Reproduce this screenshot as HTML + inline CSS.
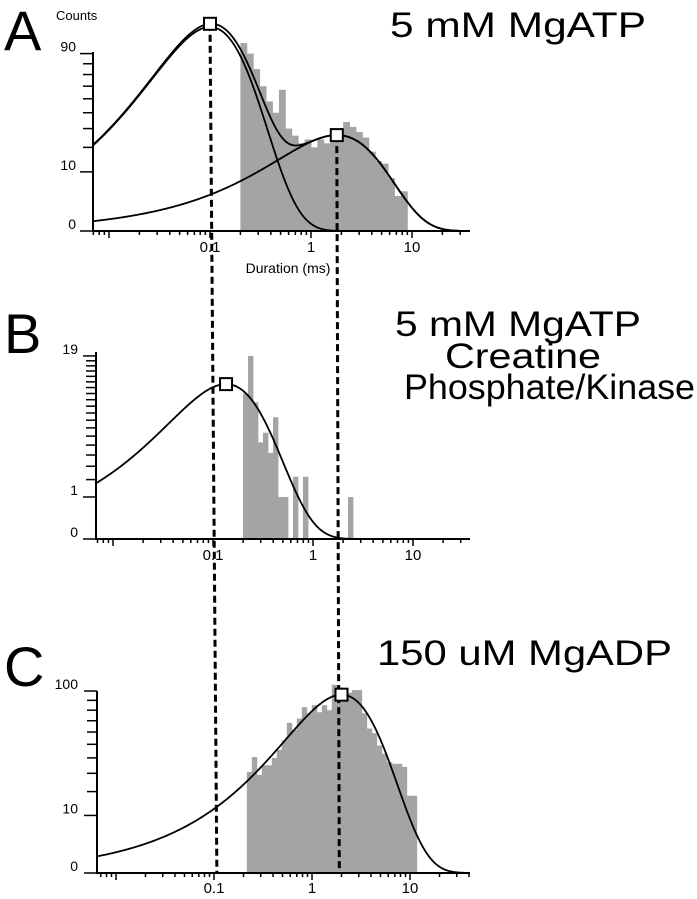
<!DOCTYPE html>
<html><head><meta charset="utf-8"><style>
html,body{margin:0;padding:0;background:#fff;}
svg{display:block;font-family:"Liberation Sans",Arial,sans-serif;}
</style></head><body>
<svg id="fig" width="697" height="899" viewBox="0 0 697 899" xmlns="http://www.w3.org/2000/svg">
<g id="layer"></g>
</svg>
<script>
// ---- data ----
const aCounts = [101,90,75,60,48,40,57,30,26,22,24,20,24,22,24,26,34,31,28,25,18,14,13,8,3.5,4.5];
const bCounts = [12,19,10.6,5.3,6.4,4.2,8.4,1,1,0,2.2,0,2.2,0,0,0,0,0,0,0,0,1];
const cCounts = [30.8,40.6,29,35,35,40,45.7,53,68,62,72,83,77,85,78,85,80,107,104,99,98,101,101,77,63,59,49,43,37,36,36,34,18,18];
const aFitTau = [0.1, 1.8];
const aFitN = [119, 26.3];
const bFitTau = [0.135];
const bFitN = [13.6];
const cFitTau = [2.0];
const cFitN = [96];
const xTickLabels = ["0.1","1","10"];
const xTickValues = [0.1,1,10];
const aYTicks = [0,10,90];
const bYTicks = [0,1,19];
const cYTicks = [0,10,100];
const guideBottomValues = [0.107, 1.9];

const NS="http://www.w3.org/2000/svg";
const layer=document.getElementById('layer');
function mk(tag,attrs,parent){const e=document.createElementNS(NS,tag);for(const k in attrs)e.setAttribute(k,attrs[k]);(parent||layer).appendChild(e);return e;}

const panels=[
 {key:'a',counts:aCounts,binStart:Math.log10(0.2),binW:1.6532/26,taus:aFitTau,Ns:aFitN,x1:311,dec:101,x0:93,xEnd:470,y0:231,k:18.7,yTicks:aYTicks,minor:[20,30,40,50,60,70,80],yTop:52,lblY:252,labX:80},
 {key:'b',counts:bCounts,binStart:-0.7,binW:0.05,taus:bFitTau,Ns:bFitN,x1:313,dec:100,x0:96,xEnd:470,y0:539,k:42,yTicks:bYTicks,minor:[2,3,4,5,6,7,8,9,10,11,12,13,14,15,16,17,18],yTop:352,lblY:560,labX:82},
 {key:'c',counts:cCounts,binStart:-0.665,binW:0.051,taus:cFitTau,Ns:cFitN,x1:312,dec:98,x0:97,xEnd:470,y0:873,k:18.2,yTicks:cYTicks,minor:[20,30,40,50,60,70,80,90],yTop:691,lblY:893,labX:82}
];

panels.forEach(p=>{
 const xs=v=>p.x1+p.dec*Math.log10(v);
 const xl=l=>p.x1+p.dec*l;
 const ys=c=>p.y0-p.k*Math.sqrt(Math.max(c,0));
 const g=mk('g',{});
 
 
 p.counts.forEach((c,i)=>{
  if(c<=0)return;
  const a=xl(p.binStart+i*p.binW), b=xl(p.binStart+(i+1)*p.binW);
  const r=mk('rect',{x:a,y:ys(c),width:b-a+0.4,height:p.y0-ys(c),fill:'#a4a4a4'},g);
  
  
 });
 const f=(t,tau,N)=>N*(t/tau)*Math.exp(1-t/tau);
 const lo=(p.x0-p.x1)/p.dec, hi=(p.xEnd-p.x1)/p.dec;
 const curvePts=(fn)=>{let d='';for(let i=0;i<=300;i++){const l=lo+(hi-lo)*i/300;const t=Math.pow(10,l);d+=(i?'L':'M')+xl(l).toFixed(2)+','+ys(fn(t)).toFixed(2);}return d;};
 if(p.taus.length>1){
  p.taus.forEach((tau,j)=>{
   const c=mk('path',{d:curvePts(t=>f(t,tau,p.Ns[j])),fill:'none',stroke:'#000','stroke-width':1.8},g);
   
   
  });
 }
 const total=t=>p.taus.reduce((s,tau,j)=>s+f(t,tau,p.Ns[j]),0);
 const tc=mk('path',{d:curvePts(total),fill:'none',stroke:'#000','stroke-width':1.8},g);
 
 
 p.boxes=p.taus.map(tau=>[xs(tau),ys(total(tau))]);
 p.xs=xs;p.ys=ys;p.g=g;
 const ax=mk('path',{d:`M${p.x0},${p.yTop}V${p.y0}H${p.xEnd}`,fill:'none',stroke:'#000','stroke-width':2},g);
 
 
 for(let e=-3;e<=2;e++){for(let m=1;m<=9;m++){const v=m*Math.pow(10,e);const x=xs(v);if(x<p.x0-0.5||x>p.xEnd)continue;
  const len=(m===1)?7:4;
  const t=mk('line',{x1:x,y1:p.y0,x2:x,y2:p.y0+len,stroke:'#000','stroke-width':1.5},g);
  
  }}
 xTickValues.forEach((v,i)=>{
  const t=mk('text',{x:xs(v),y:p.lblY,'font-size':15,'text-anchor':'middle'},g);t.textContent=xTickLabels[i];
  
  
 });
 p.minor.forEach(c=>{const y=ys(c);const t=mk('line',{x1:p.x0-10,y1:y,x2:p.x0,y2:y,stroke:'#000','stroke-width':1.5},g);
  
  });
 p.yTicks.forEach(c=>{const y=ys(c);const t=mk('line',{x1:p.x0-13,y1:y,x2:p.x0,y2:y,stroke:'#000','stroke-width':1.5},g);
  
  
  const l=mk('text',{x:p.labX-4,y:y-2,'font-size':14,'text-anchor':'end'},g);l.textContent=c;
  
  });
});

const A=panels[0],C=panels[2];
const d1=mk('line',{x1:A.boxes[0][0],y1:A.boxes[0][1],x2:C.xs(guideBottomValues[0]),y2:873,stroke:'#000','stroke-width':3,'stroke-dasharray':'7,4'});


const d2=mk('line',{x1:A.boxes[1][0],y1:A.boxes[1][1],x2:C.xs(guideBottomValues[1]),y2:873,stroke:'#000','stroke-width':3,'stroke-dasharray':'7,4'});



panels.forEach(p=>p.boxes.forEach(b=>{
 const r=mk('rect',{x:b[0]-6,y:b[1]-6,width:12,height:12,fill:'#fff',stroke:'#000','stroke-width':2});
 
 
}));

function txt(s,x,y,size,name,anchor,len){const t=mk('text',{x:x,y:y,'font-size':size,'text-anchor':anchor||'start'});if(len){t.setAttribute('textLength',len);t.setAttribute('lengthAdjust','spacingAndGlyphs');}t.textContent=s;
 
 return t;}
txt('A',4,50,56,'panel-label-a');
txt('B',4,353,56,'panel-label-b');
txt('C',4,686,56,'panel-label-c');
txt('Counts',56,20,13,'y-axis-title');
txt('Duration (ms)',288,273,14,'x-axis-title','middle');
txt('5 mM MgATP',390,37,35,'title-a','start',256);
txt('5 mM MgATP',395,336,35,'title-b-line1','start',246);
txt('Creatine',445,368,35,'title-b-line2','start',156);
txt('Phosphate/Kinase',404,399,35,'title-b-line3','start',291);
txt('150 uM MgADP',377,665,35,'title-c','start',295);
</script>
</body></html>
